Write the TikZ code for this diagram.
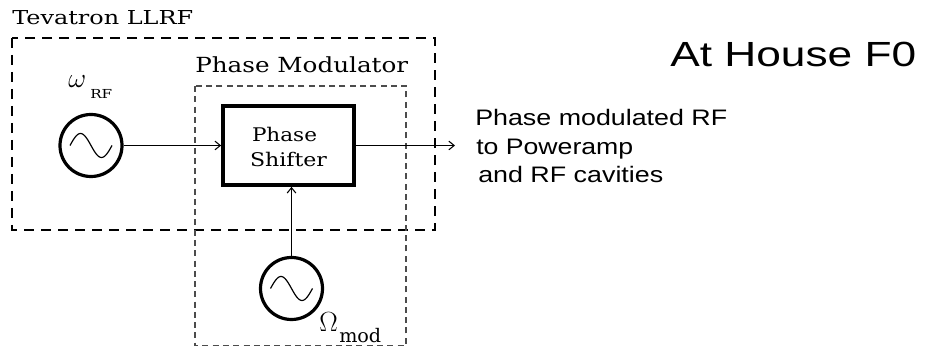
\documentclass[tikz,border=0pt]{standalone}
\usepackage{fontspec}
\usepackage{graphicx}
\newfontfamily\sansf{Liberation Sans}
\newfontfamily\serifw{DejaVu Serif}
\newcommand\fitw[2]{\resizebox{#1}{\height}{#2}}
\usetikzlibrary{arrows.meta}
\begin{document}
\begin{tikzpicture}[x=0.75pt,y=-0.75pt,
  osc/.style={circle, draw, line width=2.4pt, minimum size=46.5pt, inner sep=0pt},
  wave/.style={line width=0.9pt},
  blockbox/.style={draw, line width=2.8pt, minimum width=98.25pt, minimum height=59.25pt, inner sep=0pt},
  conn/.style={line width=0.8pt, -{Straight Barb[length=4pt,width=6.5pt,line width=0.8pt]}},
  outerdash/.style={line width=1pt, dash pattern=on 7.5pt off 5.25pt},
  innerdash/.style={line width=0.8pt, draw=black!70, dash pattern=on 4.5pt off 3.2pt},
  lbl/.style={inner sep=0pt, anchor=base west},
  sanslbl/.style={lbl, font=\sansf\fontsize{16.8}{20}\selectfont},
]
\useasboundingbox (0,0) rectangle (925,352);

% dashed frames
\draw[outerdash] (12,38) rectangle (435,230);
\draw[innerdash] (195,86) rectangle (406,345.5);

% titles of frames
\node[lbl, font=\serifw\fontsize{14.4}{17}\selectfont] (tev) at (12,25) {\fitw{135.75pt}{Tevatron LLRF}};
\node[lbl, font=\serifw\fontsize{15.6}{18}\selectfont] (pm) at (195,72.7) {\fitw{159.75pt}{Phase Modulator}};

% oscillators
\node[osc] (osc1) at (91,145.5) {};
\draw[wave, shift={(osc1.center)}] plot[domain=-21:21, samples=41, smooth] (\x,{12*sin(\x*180/21)});
\node[osc] (osc2) at (291.5,288.5) {};
\draw[wave, shift={(osc2.center)}] plot[domain=-21:21, samples=41, smooth] (\x,{12*sin(\x*180/21)});

% oscillator labels
\node[lbl, font=\fontsize{20}{22}\selectfont] (om) at (68,88) {$\omega$};
\node[lbl, font=\serifw\fontsize{9.3}{11}\selectfont] (omrf) at (90,99) {\fitw{16.5pt}{RF}};
\node[lbl, font=\fontsize{19.8}{22}\selectfont] (Om) at (319,332) {$\Omega$};
\node[lbl, font=\serifw\fontsize{14}{16}\selectfont] (Ommod) at (339,342.7) {\fitw{31.5pt}{mod}};

% phase shifter
\node[blockbox] (shift) at (288.5,145.5) {};
\node[inner sep=0pt, anchor=base, font=\serifw\fontsize{14.1}{17}\selectfont] (ph1) at (284.5,142) {\fitw{48.75pt}{Phase}};
\node[inner sep=0pt, anchor=base, font=\serifw\fontsize{14.1}{17}\selectfont] (ph2) at (288.5,167) {\fitw{57.75pt}{Shifter}};

% connectors
\coordinate (out) at (455,145.5);
\draw[conn] (osc1) -- (shift);
\draw[conn] (shift) -- (out);
\draw[conn] (osc2) -- (osc2 |- shift.south);

% right texts
\node[lbl, font=\sansf\fontsize{26.2}{30}\selectfont] (house) at (670,67) {\fitw{184.5pt}{At House F0}};
\node[sanslbl] (t1) at (475,126) {\fitw{189pt}{Phase modulated RF}};
\node[sanslbl] (t2) at (476,155) {\fitw{117.75pt}{to Poweramp}};
\node[sanslbl] (t3) at (478,183) {\fitw{138.75pt}{and RF cavities}};
\end{tikzpicture}
\end{document}
